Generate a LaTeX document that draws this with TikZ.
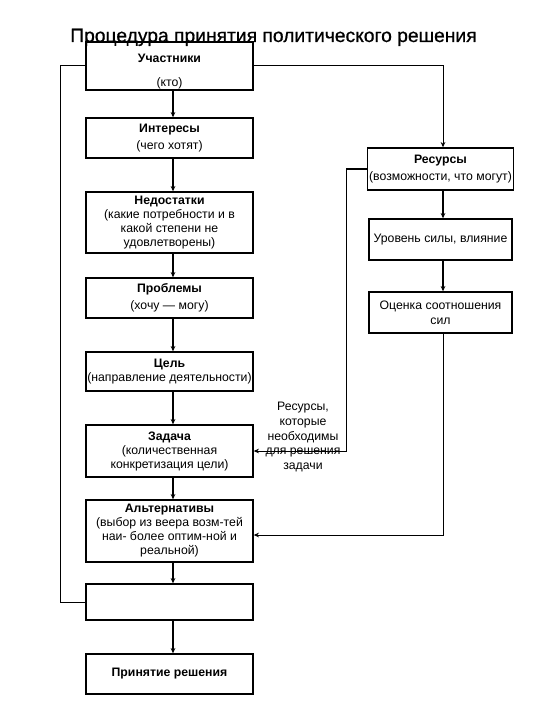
\documentclass[tikz,border=0pt]{standalone}
\usepackage{fontspec}
\setmainfont{Liberation Sans}
\newfontface\titlefont{Liberation Sans}[FakeBold=0.7]
\usetikzlibrary{arrows.meta}
\tikzset{
  box/.style={draw, line width=1pt, align=center, font=\fontsize{9.2}{10.5}\selectfont, inner sep=1pt},
  lbox/.style={box, minimum width=125.25pt},
  rbox/.style={box, minimum width=107.25pt},
  thickarr/.style={line width=1.5pt, -{Stealth[length=4pt,width=3.5pt]}},
  thinarr/.style={line width=0.75pt, -{Stealth[length=4pt,width=3.5pt]}},
  thinline/.style={line width=0.75pt},
}
\begin{document}
\begin{tikzpicture}[x=0.75pt,y=-0.75pt]
\useasboundingbox (0,0) rectangle (540,720);
\node[anchor=base west, font=\titlefont\fontsize{14.45}{16}\selectfont, inner sep=0pt] (title) at (70,42) {Процедура принятия политического решения};
\coordinate (lx) at (173,0);
\coordinate (rx) at (443,0);
% left column
\node[lbox, minimum height=30pt] (u) at (169.5,66) {\rule{0pt}{14pt}\textbf{Участники}\\[7.5pt](кто)};
\node[lbox, minimum height=30pt] (i) at (169.5,138) {\textbf{Интересы}\\[2.25pt](чего хотят)};
\node[lbox, minimum height=45.75pt] (n) at (169.5,222.5) {\textbf{Недостатки}\\(какие потребности и в\\какой степени не\\удовлетворены)};
\node[lbox, minimum height=30pt] (p) at (169.5,298) {\textbf{Проблемы}\\[2.25pt](хочу — могу)};
\node[lbox, minimum height=29.25pt] (c) at (169.5,371.5) {\textbf{Цель}\\(направление деятельности)};
\node[lbox, minimum height=39pt] (z) at (169.5,451) {\textbf{Задача}\\(количественная\\конкретизация цели)};
\node[lbox, minimum height=46.5pt] (a) at (169.5,531) {\textbf{Альтернативы}\\(выбор из веера возм-тей\\наи- более оптим-ной и\\реальной)};
\node[lbox, minimum height=27pt] (e) at (169.5,602) {};
\node[lbox, minimum height=30pt] (d) at (169.5,674) {\textbf{Принятие решения}};
% right column
\node[rbox, minimum height=31.5pt] (r) at (440.5,169) {\textbf{Ресурсы}\\[2.25pt](возможности, что могут)};
\node[rbox, minimum height=30.75pt] (s) at (440.5,239.5) {Уровень силы, влияние};
\node[rbox, minimum height=30.75pt] (o) at (440.5,312.5) {Оценка соотношения\\[0.75pt]сил};
% label
\node[align=center, font=\fontsize{9.2}{10.9}\selectfont, inner sep=0pt] (lbl) at (303,437) {Ресурсы,\\которые\\необходимы\\для решения\\задачи};
% left arrows
\draw[thickarr] (u.south -| lx) -- (i.north -| lx);
\draw[thickarr] (i.south -| lx) -- (n.north -| lx);
\draw[thickarr] (n.south -| lx) -- (p.north -| lx);
\draw[thickarr] (p.south -| lx) -- (c.north -| lx);
\draw[thickarr] (c.south -| lx) -- (z.north -| lx);
\draw[thickarr] (z.south -| lx) -- (a.north -| lx);
\draw[thickarr] (a.south -| lx) -- (e.north -| lx);
\draw[thickarr] (e.south -| lx) -- (d.north -| lx);
% right arrows
\draw[thickarr] (r.south -| rx) -- (s.north -| rx);
\draw[thickarr] (s.south -| rx) -- (o.north -| rx);
\draw[thinarr] (u.east) -| (r.north -| rx);
% feedback
\draw[thinline] (e.west) -- ++(-25,0) coordinate (fb) |- (u.west);
% resources to task
\draw[line width=1.5pt] (r.west) -- ++(-21,0) coordinate (k);
\draw[thinarr] (k) |- (z.east);
% assessment to alternatives
\coordinate (ain) at ([yshift=-3pt]a.east);
\draw[thinarr] (o.south -| rx) |- (ain);
\end{tikzpicture}
\end{document}
